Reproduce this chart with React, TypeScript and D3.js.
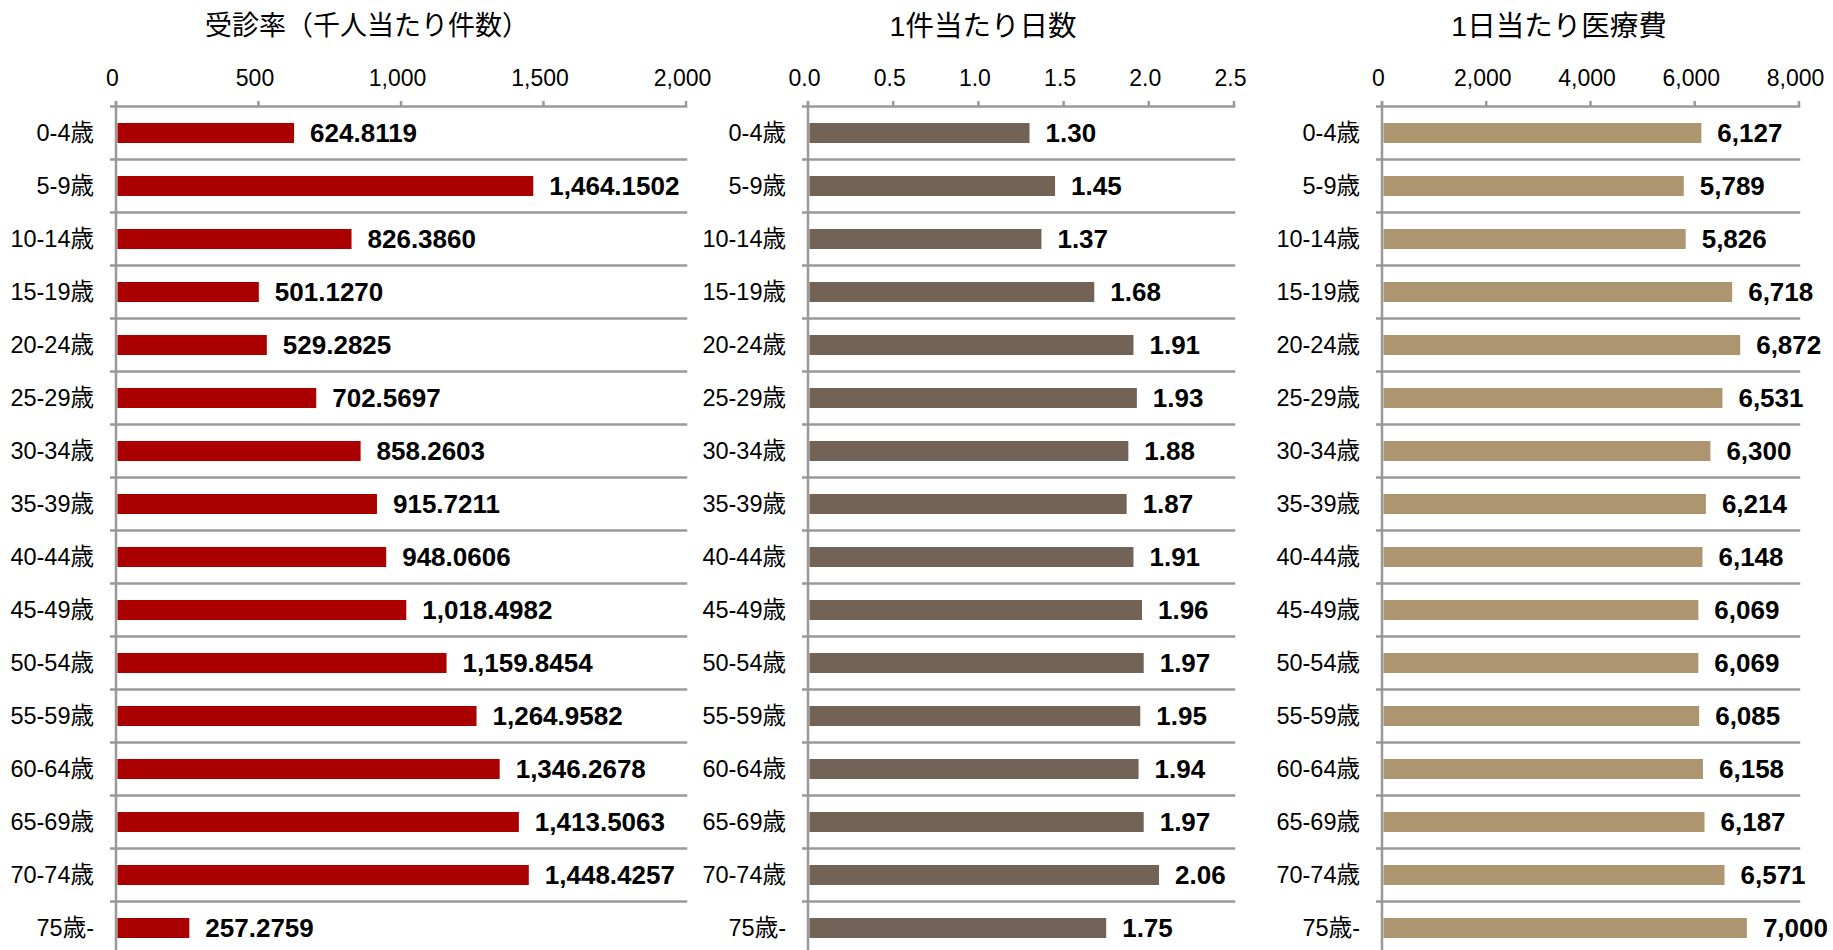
import React from 'react';
import * as d3 from 'd3';

const categories = ['0-4歳', '5-9歳', '10-14歳', '15-19歳', '20-24歳', '25-29歳', '30-34歳', '35-39歳', '40-44歳', '45-49歳', '50-54歳', '55-59歳', '60-64歳', '65-69歳', '70-74歳', '75歳-'];

const consultationRate = [624.8119, 1464.1502, 826.386, 501.127, 529.2825, 702.5697, 858.2603, 915.7211, 948.0606, 1018.4982, 1159.8454, 1264.9582, 1346.2678, 1413.5063, 1448.4257, 257.2759];
const daysPerCase = [1.3, 1.45, 1.37, 1.68, 1.91, 1.93, 1.88, 1.87, 1.91, 1.96, 1.97, 1.95, 1.94, 1.97, 2.06, 1.75];
const costPerDay = [6127, 5789, 5826, 6718, 6872, 6531, 6300, 6214, 6148, 6069, 6069, 6085, 6158, 6187, 6571, 7000];

const rateTicks = [0, 500, 1000, 1500, 2000];
const daysTicks = [0, 0.5, 1, 1.5, 2, 2.5];
const costTicks = [0, 2000, 4000, 6000, 8000];

const titles = ['受診率（千人当たり件数）', '1件当たり日数', '1日当たり医療費'];

const FONT = '"Liberation Sans", Arial, "Noto Sans CJK JP", sans-serif';
const GRID = '#999999';

const panels = [
  { title: titles[0], values: consultationRate, ticks: rateTicks, tickFmt: d3.format(','), valFmt: d3.format(',.4f'), color: '#AA0000', x0: 116, x1: 686, titleX: 367, titleSize: 27 },
  { title: titles[1], values: daysPerCase, ticks: daysTicks, tickFmt: d3.format('.1f'), valFmt: d3.format('.2f'), color: '#736357', x0: 808, x1: 1234, titleX: 983, titleSize: 28.5 },
  { title: titles[2], values: costPerDay, ticks: costTicks, tickFmt: d3.format(','), valFmt: d3.format(',d'), color: '#AD9570', x0: 1382, x1: 1799, titleX: 1559, titleSize: 28.5 },
];

const TOP = 106.5;
const BAND = 53;
const BAR_H = 20;

export default function App() {
  const y = d3.scaleBand<string>().domain(categories).range([TOP, TOP + BAND * categories.length]).padding(0);
  const bottom = TOP + BAND * categories.length;
  return (
    <svg width={1833} height={950} style={{ position: 'absolute', left: 0, top: 0, display: 'block', background: '#fff' }} fontFamily={FONT}>
      {panels.map((p, pi) => {
        const x = d3.scaleLinear().domain([p.ticks[0], p.ticks[p.ticks.length - 1]]).range([p.x0, p.x1]);
        return (
          <g key={pi}>
            <text x={p.titleX} y={26} textAnchor="middle" dominantBaseline="central" fontSize={p.titleSize} fill="#000">{p.title}</text>
            {p.ticks.map((t, i) => (
              <g key={i}>
                <text x={x(t) - 3.5} y={86} textAnchor="middle" fontSize={23} fill="#000">{p.tickFmt(t)}</text>
                <line x1={x(t)} x2={x(t)} y1={101} y2={TOP} stroke={GRID} strokeWidth={2.5} />
              </g>
            ))}
            {categories.map((c, i) => (
              <line key={'g' + i} x1={p.x0 - 6} x2={p.x1 + 1.25} y1={y(c)!} y2={y(c)!} stroke={GRID} strokeWidth={2.5} />
            ))}
            <line x1={p.x0} x2={p.x0} y1={101} y2={bottom} stroke={GRID} strokeWidth={2.5} />
            {categories.map((c, i) => {
              const cy = y(c)! + y.bandwidth() / 2;
              const v = p.values[i];
              return (
                <g key={'b' + i}>
                  <rect x={x(0) + 1.5} y={cy - BAR_H / 2} width={x(v) - x(0) - 1.5} height={BAR_H} fill={p.color} />
                  <text x={x(v) + 16} y={cy} dominantBaseline="central" fontSize={26} fontWeight="bold" fill="#000">{p.valFmt(v)}</text>
                  <text x={p.x0 - 22} y={cy} textAnchor="end" dominantBaseline="central" fontSize={23.5} fill="#000">{c}</text>
                </g>
              );
            })}
          </g>
        );
      })}
    </svg>
  );
}
